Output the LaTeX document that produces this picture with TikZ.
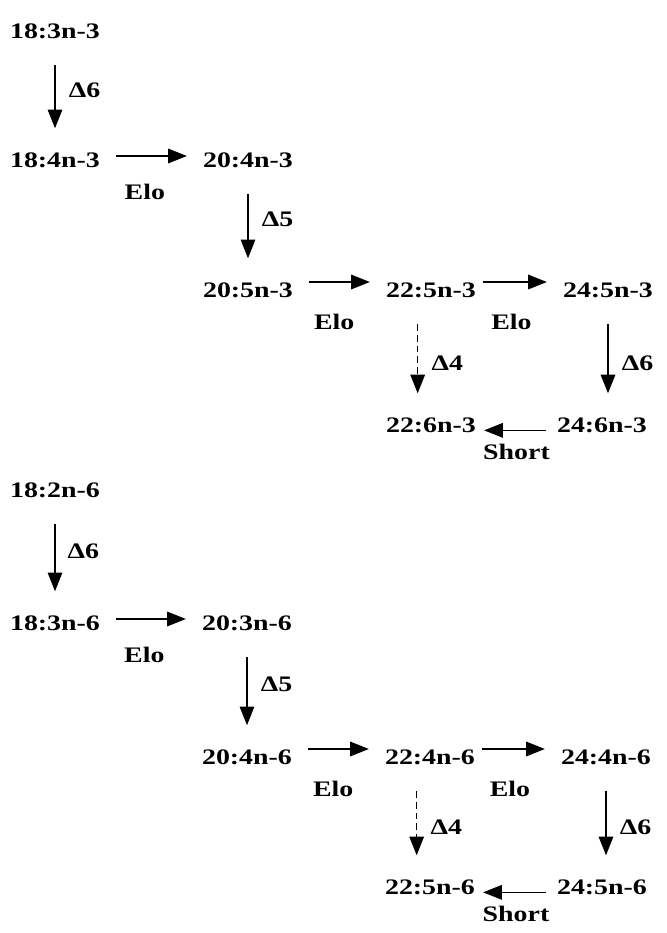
\documentclass[tikz,border=0pt]{standalone}
\usepackage{fontspec}
\setmainfont{Liberation Serif}[FakeStretch=1.26]
\usetikzlibrary{arrows.meta}

\begin{document}
\begin{tikzpicture}[
  x=0.75pt,
  y=-0.75pt,
  fa/.style={font=\fontsize{16.6}{19}\selectfont\bfseries, inner sep=3pt},
  lbl/.style={font=\fontsize{16.6}{19}\selectfont\bfseries, inner sep=2pt},
  hflow/.style={-{Triangle[length=14pt,width=11pt]}, line width=0.8pt, shorten <=9pt, shorten >=9pt},
  vflow/.style={-{Triangle[length=14pt,width=11pt]}, line width=0.8pt, shorten <=17pt, shorten >=15pt},
  dflow/.style={vflow, dash pattern=on 5pt off 3pt}
]
\useasboundingbox (0,0) rectangle (667,933);

% n-3 series
\node[fa] (t183) at (55,31) {18:3n-3};
\node[fa] (t184) at (55,160) {18:4n-3};
\node[fa] (t204) at (248,160) {20:4n-3};
\node[fa] (t205) at (248,290) {20:5n-3};
\node[fa] (t225) at (431,290) {22:5n-3};
\node[fa] (t245) at (608,290) {24:5n-3};
\node[fa] (t226) at (431,425) {22:6n-3};
\node[fa] (t246) at (602,425) {24:6n-3};
\draw[vflow] (t183) -- node[lbl,right=8pt,pos=0.45] {Δ6} (t184);
\draw[hflow] ([yshift=3pt]t184.east) -- node[lbl,below=19pt,xshift=-5pt] {Elo} ([yshift=3pt]t204.west);
\draw[vflow] (t204) -- node[lbl,right=8pt,pos=0.45] {Δ5} (t205);
\draw[hflow] ([yshift=6pt]t205.east) -- node[lbl,below=22pt,xshift=-4pt] {Elo} ([yshift=6pt]t225.west);
\draw[hflow,shorten <=2pt] ([yshift=6pt]t225.east) -- node[lbl,below=22pt,xshift=-6pt] {Elo} ([yshift=6pt]t245.west);
\draw[dflow] ([xshift=-10pt]t225.south) -- node[lbl,right=8pt,pos=0.55] {Δ4} ([xshift=-10pt]t226.north);
\draw[vflow] (t245.south) -- node[lbl,right=8pt,pos=0.55] {Δ6} (t245.south |- t246.north);
\draw[hflow,shorten <=5pt,shorten >=3pt] ([yshift=-4pt]t246.west) -- node[lbl,below=8pt] {Short} ([yshift=-4pt]t226.east);

% n-6 series
\node[fa] (b182) at (55,490) {18:2n-6};
\node[fa] (b183) at (55,623) {18:3n-6};
\node[fa] (b203) at (247,623) {20:3n-6};
\node[fa] (b204) at (247,757) {20:4n-6};
\node[fa] (b224) at (430,757) {22:4n-6};
\node[fa] (b244) at (606,757) {24:4n-6};
\node[fa] (b225) at (430,887) {22:5n-6};
\node[fa] (b245) at (602,887) {24:5n-6};
\draw[vflow] (b182) -- node[lbl,right=7pt,pos=0.45] {Δ6} (b183);
\draw[hflow] ([yshift=3pt]b183.east) -- node[lbl,below=19pt,xshift=-5pt] {Elo} ([yshift=3pt]b203.west);
\draw[vflow] (b203) -- node[lbl,right=8pt,pos=0.45] {Δ5} (b204);
\draw[hflow] ([yshift=6pt]b204.east) -- node[lbl,below=22pt,xshift=-4pt] {Elo} ([yshift=6pt]b224.west);
\draw[hflow,shorten <=2pt] ([yshift=6pt]b224.east) -- node[lbl,below=22pt,xshift=-6pt] {Elo} ([yshift=6pt]b244.west);
\draw[dflow] ([xshift=-10pt]b224.south) -- node[lbl,right=8pt,pos=0.55] {Δ4} ([xshift=-10pt]b225.north);
\draw[vflow] (b244.south) -- node[lbl,right=8pt,pos=0.55] {Δ6} (b244.south |- b245.north);
\draw[hflow,shorten <=5pt,shorten >=3pt] ([yshift=-4pt]b245.west) -- node[lbl,below=8pt] {Short} ([yshift=-4pt]b225.east);
\end{tikzpicture}
\end{document}
